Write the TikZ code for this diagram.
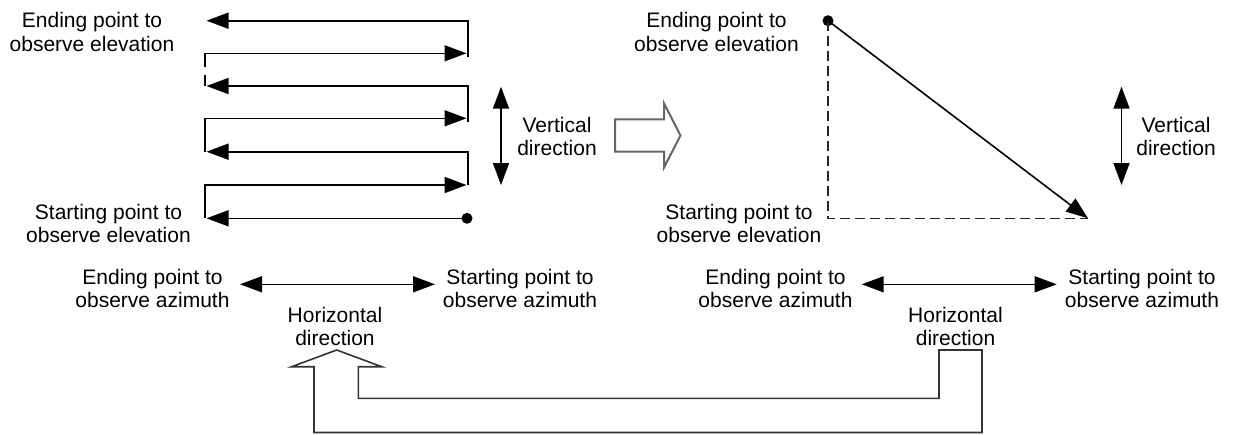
\documentclass[tikz,border=0pt]{standalone}
\usepackage{fontspec}
\setmainfont{Liberation Sans}
\usetikzlibrary{arrows.meta}
\begin{document}
\begin{tikzpicture}[x=1pt,y=-1pt,
  lbl/.style={align=center,font=\fontsize{21}{23.5}\selectfont,inner sep=0pt},
  ln/.style={line width=1.6pt,line join=miter},
  arr/.style={ln,-{Triangle[length=22pt,width=16pt]}},
  dblarr/.style={ln,{Triangle[length=22pt,width=16pt]}-{Triangle[length=22pt,width=16pt]}},
  dotnode/.style={circle,fill,inner sep=0pt,minimum size=11pt},
  hollow/.style={draw=black!60,line width=2pt,line join=miter},
  uarrow/.style={draw=black!80,line width=1.6pt,line join=miter},
  dashline/.style={line width=1.4pt,draw=black!85,dash pattern=on 10pt off 5pt}]
\useasboundingbox (0,0) rectangle (1233,434);

% ---------- left zigzag ----------
\coordinate (L1) at (206.5,20.7);  \coordinate (R1) at (468,20.7);
\coordinate (L2) at (205,53.3);    \coordinate (R2) at (466.5,53.3);
\coordinate (L3) at (206.5,86);    \coordinate (R3) at (468,86);
\coordinate (L4) at (205,118.3);   \coordinate (R4) at (466.5,118.3);
\coordinate (L5) at (206.5,151.7); \coordinate (R5) at (468,151.7);
\coordinate (L6) at (205,185);     \coordinate (R6) at (466.5,185);
\coordinate (L7) at (206.5,218.3);
\coordinate (R1b) at (468,56.5);
\coordinate (L2b) at (205,66.7);
\coordinate (R3b) at (468,121.5);
\coordinate (L3a) at (205,75);     \coordinate (L3c) at (205,86);
\coordinate (L4b) at (205,151.7);
\coordinate (R5b) at (468,185);
\coordinate (L6b) at (205,218.3);
\node[dotnode] (startL) at (467,218.3) {};

\draw[arr] (R1b) -- (R1) -- (L1);
\draw[arr] (L2b) -- (L2) -- (R2);
\draw[arr] (R3b) -- (R3) -- (L3);
\draw[ln] (L3a) -- (L3c);
\draw[arr] (L4b) -- (L4) -- (R4);
\draw[arr] (R5b) -- (R5) -- (L5);
\draw[arr] (L6b) -- (L6) -- (R6);
\draw[arr] (startL.center) -- (L7);

% ---------- left labels ----------
\node[lbl] (e1) at (92,32) {Ending point to\\observe elevation};
\node[lbl] (s1) at (108.5,223.4) {Starting point to\\observe elevation};
\node[lbl] (v1) at (557,136.5) {Vertical\\direction};
\coordinate (v1t) at (501,86.7); \coordinate (v1b) at (501,185);
\draw[dblarr] (v1t) -- (v1b);

% ---------- middle hollow arrow ----------
\draw[hollow] (615,119.3) -- (664,119.3) -- (664,103.3) -- (680.5,135.5)
  -- (664,167.5) -- (664,151.7) -- (615,151.7) -- cycle;

% ---------- right diagram ----------
\node[dotnode] (endR) at (828,20.7) {};
\coordinate (cornR) at (828,218.3);
\coordinate (tipR) at (1088,218.3);
\draw[dashline] (endR.center) -- (cornR) -- (tipR);
\draw[arr] (endR.center) -- (tipR);
\node[lbl] (e2) at (716.5,32) {Ending point to\\observe elevation};
\node[lbl] (s2) at (739,223.4) {Starting point to\\observe elevation};
\node[lbl] (v2) at (1176,136.5) {Vertical\\direction};
\coordinate (v2t) at (1121.5,86.7); \coordinate (v2b) at (1121.5,185);
\draw[dblarr] (v2t) -- (v2b);

% ---------- bottom labels and arrows ----------
\node[lbl] (ea1) at (152.5,288.4) {Ending point to\\observe azimuth};
\node[lbl] (sa1) at (520,288.4) {Starting point to\\observe azimuth};
\node[lbl] (h1) at (335,326.5) {Horizontal\\direction};
\coordinate (ha1l) at (240,284.3); \coordinate (ha1r) at (435,284.3);
\draw[dblarr] (ha1l) -- (ha1r);

\node[lbl] (ea2) at (775.5,288.4) {Ending point to\\observe azimuth};
\node[lbl] (sa2) at (1142,288.4) {Starting point to\\observe azimuth};
\node[lbl] (h2) at (955.5,326.5) {Horizontal\\direction};
\coordinate (ha2l) at (861.7,284.3); \coordinate (ha2r) at (1056.7,284.3);
\draw[dblarr] (ha2l) -- (ha2r);

% ---------- return U arrow ----------
\draw[uarrow] (982,350) -- (982,432.5) -- (314,432.5) -- (314,366.7)
  -- (291.7,366.7) -- (336.7,350) -- (381.7,366.7) -- (358.3,366.7)
  -- (358.3,398.3) -- (939,398.3) -- (939,350) -- cycle;
\end{tikzpicture}
\end{document}
